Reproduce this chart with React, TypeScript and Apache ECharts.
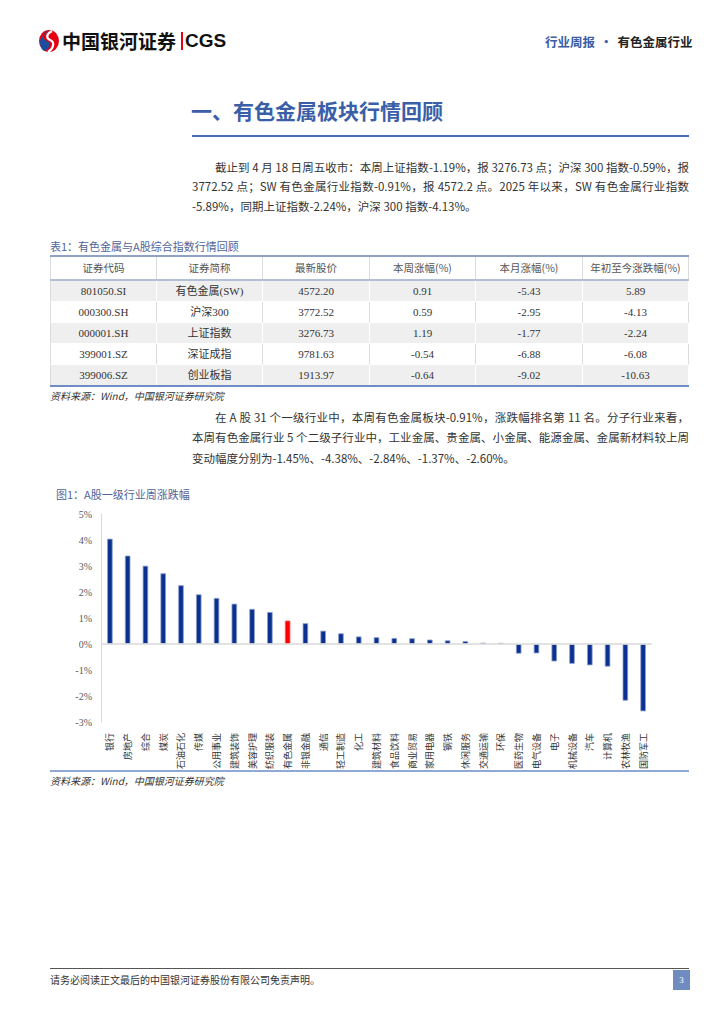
import React, { useEffect, useRef } from "react";
import * as echarts from "echarts";

const categories = ["银行", "房地产", "综合", "煤炭", "石油石化", "传媒", "公用事业", "建筑装饰", "美容护理", "纺织服装", "有色金属", "非银金融", "通信", "轻工制造", "化工", "建筑材料", "食品饮料", "商业贸易", "家用电器", "钢铁", "休闲服务", "交通运输", "环保", "医药生物", "电气设备", "电子", "机械设备", "汽车", "计算机", "农林牧渔", "国防军工"];
const weeklyChange = [4.05, 3.40, 3.01, 2.72, 2.26, 1.91, 1.77, 1.55, 1.35, 1.23, 0.90, 0.80, 0.51, 0.41, 0.29, 0.26, 0.23, 0.22, 0.17, 0.14, 0.11, 0.05, 0.04, -0.37, -0.36, -0.67, -0.76, -0.82, -0.87, -2.18, -2.59];
const highlight = "有色金属";

const tableHeader = ["证券代码", "证券简称", "最新股价", "本周涨幅(%)", "本月涨幅(%)", "年初至今涨跌幅(%)"];
const codes = ["801050.SI", "000300.SH", "000001.SH", "399001.SZ", "399006.SZ"];
const names = ["有色金属(SW)", "沪深300", "上证指数", "深证成指", "创业板指"];
const prices = ["4572.20", "3772.52", "3276.73", "9781.63", "1913.97"];
const weekPct = ["0.91", "0.59", "1.19", "-0.54", "-0.64"];
const monthPct = ["-5.43", "-2.95", "-1.77", "-6.88", "-9.02"];
const ytdPct = ["5.89", "-4.13", "-2.24", "-6.08", "-10.63"];

const SERIF = "'Liberation Serif', 'Noto Sans CJK SC', serif";
const CJK = "'Noto Sans CJK SC', 'Liberation Serif', serif";

function Chart() {
  const ref = useRef<HTMLDivElement>(null);
  useEffect(() => {
    if (!ref.current) return;
    const chart = echarts.init(ref.current, null, { renderer: "svg" });
    chart.setOption({
      animation: false,
      grid: { left: 61, right: 18, top: 9, bottom: 53, containLabel: false },
      xAxis: {
        type: "category",
        data: categories,
        axisLine: { show: false },
        axisTick: { show: false },
        axisLabel: {
          rotate: 90,
          interval: 0,
          margin: 11,
          fontSize: 9,
          color: "#333",
          fontFamily: CJK,
        },
      },
      yAxis: {
        type: "value",
        min: -3,
        max: 5,
        interval: 1,
        axisLine: { show: true, lineStyle: { color: "#d9d9d9", width: 1 } },
        axisTick: { show: false },
        splitLine: { show: false },
        axisLabel: {
          formatter: "{value}%",
          fontSize: 10,
          color: "#595959",
          margin: 9,
          fontFamily: SERIF,
        },
      },
      series: [
        {
          type: "bar",
          barWidth: 5.5,
          data: weeklyChange.map((v, i) => ({
            value: v,
            itemStyle: {
              color: categories[i] === highlight ? "#ff0000" : "#0b3190",
              borderColor: categories[i] === highlight ? "#ff6060" : "#8c9fcc",
              borderWidth: 0.8,
            },
          })),
          markLine: {
            silent: true,
            symbol: "none",
            label: { show: false },
            lineStyle: { color: "#d9d9d9", type: "solid", width: 1.5 },
            data: [{ yAxis: 0 }],
          },
        },
      ],
    });
    return () => chart.dispose();
  }, []);
  return <div ref={ref} style={{ position: "absolute", left: 40, top: 505, width: 630, height: 270 }} />;
}

const lineStyle: React.CSSProperties = {
  position: "absolute",
  fontFamily: CJK,
  fontSize: 11.5,
  color: "#333",
  whiteSpace: "nowrap",
  lineHeight: "14px",
};

function JLine({ x, y, right, text }: { x: number; y: number; right?: number; text: string }) {
  const style: React.CSSProperties = { ...lineStyle, left: x, top: y - 7 };
  if (right) {
    style.width = right - x;
    style.textAlign = "justify";
    (style as any).textAlignLast = "justify";
    style.whiteSpace = "normal";
    style.height = 14;
    style.overflow = "hidden";
  }
  return <div style={style}>{text}</div>;
}

function Logo() {
  return (
    <svg width="22" height="24" viewBox="0 0 22 24" style={{ position: "absolute", left: 38, top: 29 }}>
      <ellipse cx="11" cy="12" rx="10" ry="11" fill="#e60012" />
      <path d="M11 1 C 4 4, 3 10, 9 12 C 14 14, 12 20, 6 22 C 2 19, 1 14, 3 9 Z" fill="#1d4e9e" />
      <path d="M14 2 C 8 5, 8 9, 12 11 C 17 13, 16 19, 10 23" stroke="#fff" strokeWidth="2.2" fill="none" />
    </svg>
  );
}

export default function App() {
  const cols = [50, 157, 263, 370, 476, 583, 689];
  const rows = codes.map((c, i) => [c, names[i], prices[i], weekPct[i], monthPct[i], ytdPct[i]]);
  const rowTop = 281;
  const rowH = 21;
  return (
    <div style={{ position: "absolute", left: 0, top: 0, width: 724, height: 1024, background: "#fff", overflow: "hidden" }}>
      <Logo />
      <div style={{ position: "absolute", left: 62, top: 29, fontFamily: CJK, fontWeight: 700, fontSize: 19, color: "#111", lineHeight: "24px", whiteSpace: "nowrap" }}>中国银河证券</div>
      <div style={{ position: "absolute", left: 181, top: 32, width: 1.5, height: 18, background: "#e60012" }} />
      <div style={{ position: "absolute", left: 185, top: 29, fontFamily: "'Liberation Sans', Arial, sans-serif", fontWeight: 700, fontSize: 19, color: "#111", lineHeight: "24px" }}>CGS</div>
      <div style={{ position: "absolute", left: 545, top: 33, fontFamily: CJK, fontWeight: 700, fontSize: 12.5, lineHeight: "18px", whiteSpace: "nowrap" }}>
        <span style={{ color: "#3b5da6" }}>行业周报</span>
        <span style={{ color: "#3b5da6", margin: "0 5px" }}>·</span>
        <span style={{ color: "#222" }}>有色金属行业</span>
      </div>

      <div style={{ position: "absolute", left: 191, top: 96, fontFamily: CJK, fontWeight: 700, fontSize: 21, color: "#3a5fa8", lineHeight: "28px", whiteSpace: "nowrap" }}>一、有色金属板块行情回顾</div>
      <div style={{ position: "absolute", left: 192, top: 135, width: 497, height: 1.5, background: "#4a6db3" }} />

      <JLine x={215} y={167} right={689} text="截止到 4 月 18 日周五收市：本周上证指数-1.19%，报 3276.73 点；沪深 300 指数-0.59%，报" />
      <JLine x={192} y={186} right={689} text="3772.52 点；SW 有色金属行业指数-0.91%，报 4572.2 点。2025 年以来，SW 有色金属行业指数" />
      <JLine x={192} y={206} text="-5.89%，同期上证指数-2.24%，沪深 300 指数-4.13%。" />

      <div style={{ position: "absolute", left: 50, top: 239, fontFamily: CJK, fontSize: 11, color: "#4f659a", lineHeight: "14px" }}>表1：有色金属与A股综合指数行情回顾</div>
      <div style={{ position: "absolute", left: 50, top: 255, width: 639, height: 2, background: "#8fa2c6" }} />
      {tableHeader.map((h, j) => (
        <div key={"h" + j} style={{ position: "absolute", left: cols[j], top: 257, width: cols[j + 1] - cols[j], height: 22, lineHeight: "22px", textAlign: "center", fontFamily: CJK, fontSize: 10.5, color: "#555", borderLeft: j === 0 ? "1px solid #dcdcdc" : "none", borderRight: "1px solid #dcdcdc", boxSizing: "border-box" }}>{h}</div>
      ))}
      <div style={{ position: "absolute", left: 50, top: 279, width: 639, height: 2, background: "#b3bfd6" }} />
      {rows.map((r, i) => (
        <React.Fragment key={"r" + i}>
          {r.map((cell, j) => (
            <div key={j} style={{ position: "absolute", left: cols[j], top: rowTop + i * rowH, width: cols[j + 1] - cols[j], height: rowH, lineHeight: rowH + "px", textAlign: "center", fontFamily: SERIF, fontSize: 11, color: "#333", background: i % 2 === 0 ? "#efefef" : "#fff", borderLeft: j === 0 ? "1px solid #dcdcdc" : "none", borderRight: "1px solid " + (i % 2 === 0 ? "#fff" : "#dcdcdc"), borderBottom: "1px solid #fff", boxSizing: "border-box" }}>{cell}</div>
          ))}
        </React.Fragment>
      ))}
      <div style={{ position: "absolute", left: 50, top: 385, width: 639, height: 2, background: "#6f8cc6" }} />
      <div style={{ position: "absolute", left: 50, top: 389, fontFamily: CJK, fontSize: 10, fontStyle: "italic", color: "#333", lineHeight: "14px" }}>资料来源：Wind，中国银河证券研究院</div>

      <JLine x={215} y={417} right={689} text="在 A 股 31 个一级行业中，本周有色金属板块-0.91%，涨跌幅排名第 11 名。分子行业来看，" />
      <JLine x={192} y={437} right={689} text="本周有色金属行业 5 个二级子行业中，工业金属、贵金属、小金属、能源金属、金属新材料较上周" />
      <JLine x={192} y={458} text="变动幅度分别为-1.45%、-4.38%、-2.84%、-1.37%、-2.60%。" />

      <div style={{ position: "absolute", left: 56, top: 487, fontFamily: CJK, fontSize: 11, color: "#4f659a", lineHeight: "14px" }}>图1：A股一级行业周涨跌幅</div>
      <Chart />
      <div style={{ position: "absolute", left: 50, top: 770, width: 639, height: 1.5, background: "#8fa8d6" }} />
      <div style={{ position: "absolute", left: 50, top: 774, fontFamily: CJK, fontSize: 10, fontStyle: "italic", color: "#333", lineHeight: "14px" }}>资料来源：Wind，中国银河证券研究院</div>

      <div style={{ position: "absolute", left: 50, top: 968, width: 639, height: 1, background: "#555" }} />
      <div style={{ position: "absolute", left: 50, top: 973, fontFamily: CJK, fontSize: 10, color: "#333", lineHeight: "14px" }}>请务必阅读正文最后的中国银河证券股份有限公司免责声明。</div>
      <div style={{ position: "absolute", left: 673, top: 970, width: 17, height: 20, background: "#6f8bc0", color: "#fff", fontFamily: SERIF, fontSize: 9, textAlign: "center", lineHeight: "20px" }}>3</div>
    </div>
  );
}
